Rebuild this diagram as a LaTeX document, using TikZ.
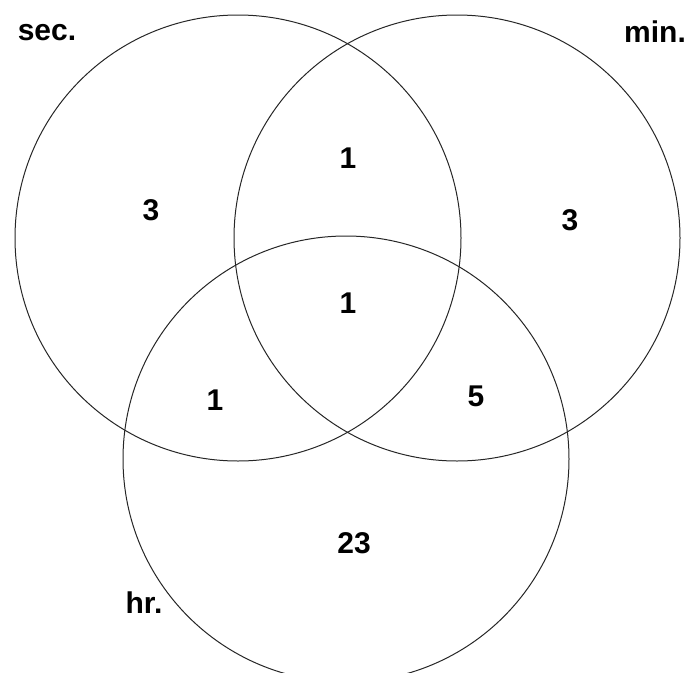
\documentclass[tikz,border=0pt]{standalone}
\usepackage{fontspec}
\setmainfont{Liberation Sans}
\usetikzlibrary{positioning}

\begin{document}
\begin{tikzpicture}[x=1pt,y=-1pt,
    set/.style={draw=black!85,line width=1pt,circle,minimum size=446pt,inner sep=0pt},
    lbl/.style={font=\fontsize{30}{34}\selectfont\bfseries},
    cnt/.style={font=\fontsize{30}{34}\selectfont\bfseries}
  ]
    \useasboundingbox (0,0) rectangle (690,672);

    % the three sets
    \node[set] (sec) at (238,238) {};
    \node[set] (min) at (457,238) {};
    \node[set] (hr) at (346,459) {};

    \node[lbl] (secname) at (47,33) {sec.};
    \node[lbl] (minname) at (655,32) {min.};
    \node[lbl] (hrname) at (144,603) {hr.};

    % counts per region
    \node[cnt] (sonly) at (151,210) {3};
    \node[cnt] (monly) at (570,220) {3};
    \node[cnt] (sm) at (348,158) {1};
    \node[cnt] (smh) at (348,303) {1};
    \node[cnt] (sh) at (215,400) {1};
    \node[cnt] (mh) at (476,396) {5};
    \node[cnt] (honly) at (354,543) {23};
  \end{tikzpicture}
\end{document}
